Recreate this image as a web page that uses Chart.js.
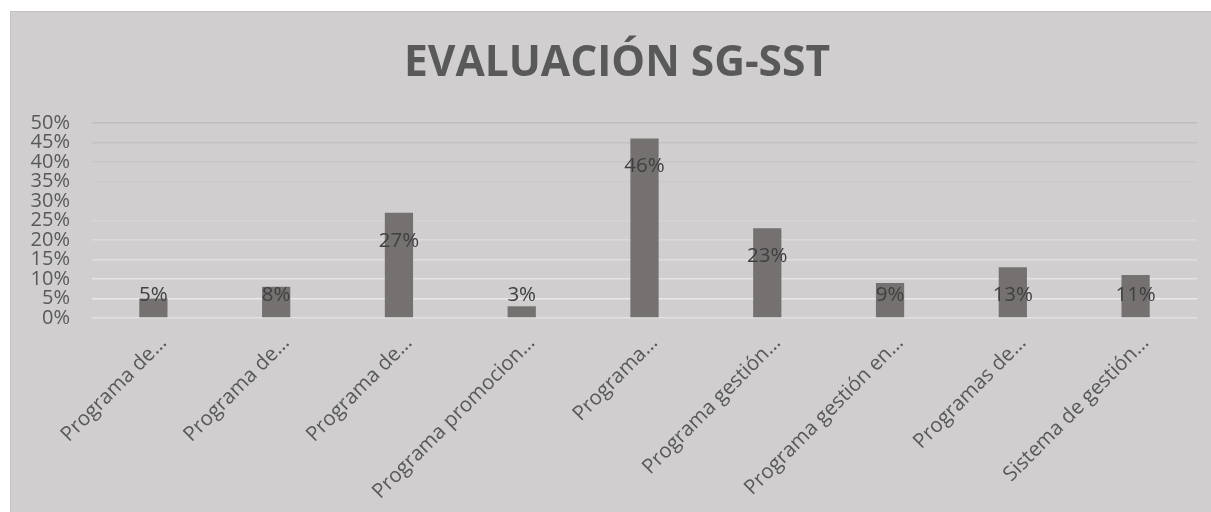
<!DOCTYPE html>
<html>
<head>
<meta charset="utf-8">
<script src="https://cdn.jsdelivr.net/npm/chart.js@4/dist/chart.umd.min.js"></script>
<style>
  html, body { margin: 0; padding: 0; background: #ffffff; }
  #wrap { width: 1211px; height: 512px; }
</style>
</head>
<body>
<div id="wrap"><canvas id="chart" width="1211" height="512"></canvas></div>
<script>
// data
const categories = [
  'Programa de…',
  'Programa de…',
  'Programa de…',
  'Programa promocion…',
  'Programa…',
  'Programa gestión…',
  'Programa gestión en…',
  'Programas de…',
  'Sistema de gestión…'
];
const percentValues = [5, 8, 27, 3, 46, 23, 9, 13, 11];
const chartTitle = 'EVALUACIÓN SG-SST';

const FONT = "'Open Sans', sans-serif";

// grey panel behind the chart, like the Excel chart area
const panelPlugin = {
  id: 'panel',
  beforeDraw(chart) {
    const c = chart.ctx;
    c.save();
    c.fillStyle = '#ffffff';
    c.fillRect(0, 0, chart.width, chart.height);
    c.fillStyle = '#d0cecf';
    c.fillRect(10, 11, chart.width - 10, chart.height - 11);
    c.strokeStyle = '#c3c1c2';
    c.lineWidth = 1;
    c.strokeRect(10.5, 11.5, chart.width, chart.height);
    c.restore();
  }
};

// title drawn by hand: Excel centres it on the whole panel, not the plot
const titlePlugin = {
  id: 'bigTitle',
  afterDraw(chart) {
    const c = chart.ctx;
    c.save();
    c.font = 'bold 42.5px ' + FONT;
    c.fillStyle = '#595959';
    c.textAlign = 'center';
    c.textBaseline = 'middle';
    c.fillText(chartTitle, 617, 64);
    c.restore();
  }
};

// value labels near the top of each bar (clamped for short bars)
const valueLabels = {
  id: 'valueLabels',
  afterDatasetsDraw(chart) {
    const c = chart.ctx;
    const meta = chart.getDatasetMeta(0);
    const base = chart.scales.y.getPixelForValue(0);
    c.save();
    c.font = '20.5px ' + FONT;
    c.fillStyle = '#404040';
    c.textAlign = 'center';
    c.textBaseline = 'middle';
    meta.data.forEach((bar, i) => {
      const y = Math.min(bar.y + 28, base - 23);
      c.fillText(percentValues[i] + '%', bar.x, y);
    });
    c.restore();
  }
};

function gridColor(v) {
  // upper lines darker, lower lines lighter
  const top = [190, 188, 189];
  const bottom = [238, 238, 238];
  let t = v / 50;
  const col = top.map((a, k) => Math.round(bottom[k] + (a - bottom[k]) * t));
  if (v === 0) return 'rgb(226,225,225)';
  return `rgb(${col[0]},${col[1]},${col[2]})`;
}

new Chart(document.getElementById('chart'), {
  type: 'bar',
  data: {
    labels: categories,
    datasets: [{
      data: percentValues,
      backgroundColor: '#767171',
      borderWidth: 0,
      barPercentage: 0.23,
      categoryPercentage: 1
    }]
  },
  options: {
    responsive: false,
    animation: false,
    layout: { padding: { left: 10, top: 123, right: 14, bottom: 0 } },
    plugins: {
      legend: { display: false },
      tooltip: { enabled: false },
      title: { display: false }
    },
    scales: {
      x: {
        grid: { display: false },
        border: { display: false },
        ticks: {
          color: '#595959',
          font: { family: FONT, size: 20.5 },
          minRotation: 45,
          maxRotation: 45,
          autoSkip: false,
          labelOffset: 10,
          padding: 5
        },
        afterFit(scale) { scale.height = 194; }
      },
      y: {
        min: 0,
        max: 50,
        border: { display: false },
        grid: {
          color: ctx => gridColor(ctx.tick.value),
          lineWidth: 1.5,
          drawTicks: false
        },
        ticks: {
          stepSize: 5,
          autoSkip: false,
          color: '#595959',
          font: { family: FONT, size: 20, lineHeight: 1 },
          padding: 22,
          callback: v => v + '%'
        },
        afterFit(scale) { scale.width = 82; }
      }
    }
  },
  plugins: [panelPlugin, valueLabels, titlePlugin]
});
</script>
</body>
</html>
